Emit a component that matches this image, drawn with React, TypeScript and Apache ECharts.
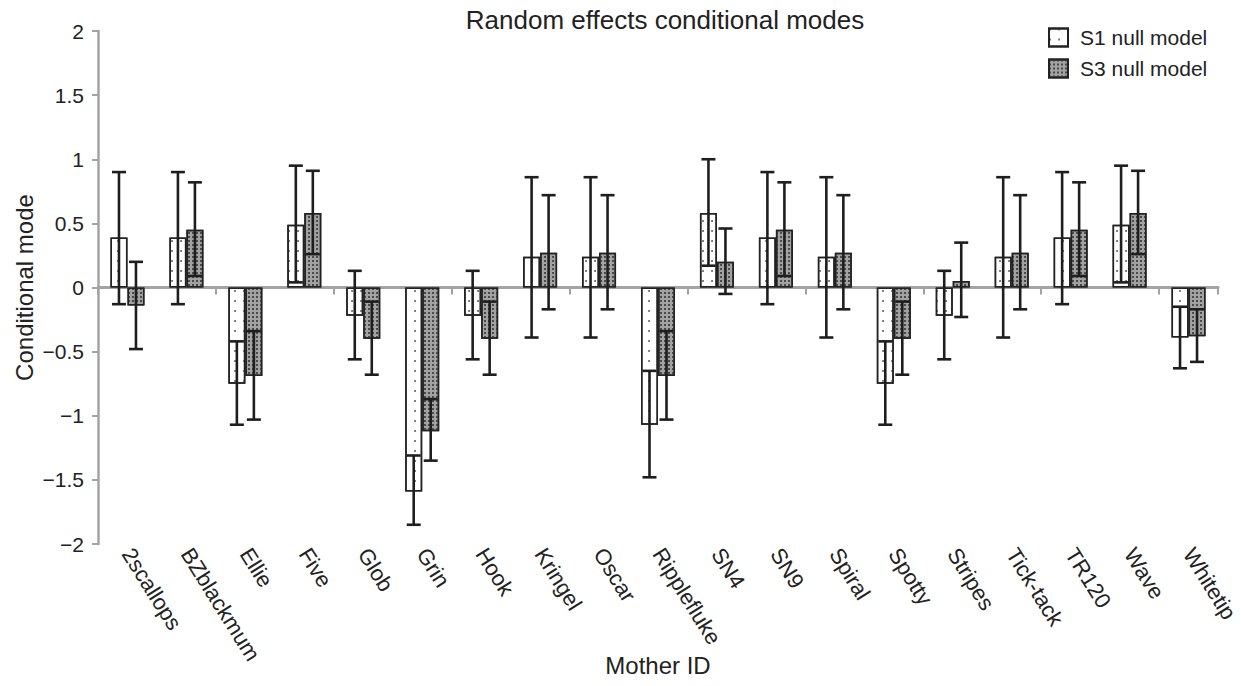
import React, { useEffect, useRef } from "react";
import * as echarts from "echarts";

const categories = [
  "2scallops", "BZblackmum", "Ellie", "Five", "Glob", "Grin", "Hook", "Kringel", "Oscar",
  "Ripplefluke", "SN4", "SN9", "Spiral", "Spotty", "Stripes", "Tick-tack", "TR120", "Wave", "Whitetip",
];

const s1Values = [0.39, 0.39, -0.75, 0.49, -0.22, -1.59, -0.22, 0.24, 0.24, -1.07, 0.58, 0.39, 0.24, -0.75, -0.22, 0.24, 0.39, 0.49, -0.39];
const s1Low = [-0.13, -0.13, -1.07, 0.04, -0.56, -1.85, -0.56, -0.39, -0.39, -1.48, 0.17, -0.13, -0.39, -1.07, -0.56, -0.39, -0.13, 0.04, -0.63];
const s1High = [0.9, 0.9, -0.42, 0.95, 0.13, -1.31, 0.13, 0.86, 0.86, -0.65, 1.0, 0.9, 0.86, -0.42, 0.13, 0.86, 0.9, 0.95, -0.15];

const s3Values = [-0.14, 0.45, -0.69, 0.58, -0.4, -1.12, -0.4, 0.27, 0.27, -0.69, 0.2, 0.45, 0.27, -0.4, 0.05, 0.27, 0.45, 0.58, -0.38];
const s3Low = [-0.48, 0.09, -1.03, 0.26, -0.68, -1.35, -0.68, -0.17, -0.17, -1.03, -0.05, 0.09, -0.17, -0.68, -0.23, -0.17, 0.09, 0.26, -0.58];
const s3High = [0.2, 0.82, -0.34, 0.91, -0.11, -0.87, -0.11, 0.72, 0.72, -0.34, 0.46, 0.82, 0.72, -0.11, 0.35, 0.72, 0.82, 0.91, -0.17];

const yTicks = [-2, -1.5, -1, -0.5, 0, 0.5, 1, 1.5, 2];

const FONT = "'Liberation Sans', Arial, Helvetica, sans-serif";
const BAR_W = 17;

function errorSeries(name: string, low: number[], high: number[], offset: number) {
  return {
    type: "custom",
    name: name + " err",
    xAxisIndex: 0,
    yAxisIndex: 0,
    z: 10,
    silent: true,
    encode: { x: 0, y: [1, 2] },
    data: low.map((l, i) => [i, l, high[i]]),
    renderItem: (params: any, api: any) => {
      const idx = api.value(0);
      const lo = api.coord([idx, api.value(1)]);
      const hi = api.coord([idx, api.value(2)]);
      const x = lo[0] + offset;
      const cap = 7;
      const style = { stroke: "#1e1e1e", lineWidth: 2.6 };
      return {
        type: "group",
        children: [
          { type: "line", shape: { x1: x, y1: lo[1], x2: x, y2: hi[1] }, style },
          { type: "line", shape: { x1: x - cap, y1: lo[1], x2: x + cap, y2: lo[1] }, style },
          { type: "line", shape: { x1: x - cap, y1: hi[1], x2: x + cap, y2: hi[1] }, style },
        ],
      };
    },
  };
}

export default function App() {
  const ref = useRef<HTMLDivElement>(null);
  useEffect(() => {
    if (!ref.current) return;
    const chart = echarts.init(ref.current, null, { renderer: "svg" });
    chart.setOption({
      animation: false,
      textStyle: { fontFamily: FONT },
      title: {
        text: "Random effects conditional modes",
        left: 660,
        textAlign: "center",
        top: 2,
        textStyle: { fontFamily: FONT, fontSize: 26, fontWeight: "normal", color: "#222" },
      },
      legend: {
        orient: "vertical",
        left: 1043,
        top: 22,
        itemWidth: 19,
        itemHeight: 18,
        itemGap: 10,
        icon: "rect",
        data: ["S1 null model", "S3 null model"],
        textStyle: { fontFamily: FONT, fontSize: 21, color: "#222", padding: [0, 0, 0, 7] },
      },
      grid: { left: 98, right: 23, top: 31, bottom: 142, containLabel: false, outerBoundsMode: "none" },
      xAxis: [
        {
          type: "category",
          data: categories,
          position: "bottom",
          axisLine: { show: false, onZero: false },
          axisTick: { show: false },
          axisLabel: {
            rotate: -58,
            fontSize: 22,
            color: "#222",
            fontFamily: FONT,
            margin: 6,
            interval: 0,
          },
          name: "Mother ID",
          nameLocation: "middle",
          nameGap: 109,
          nameMoveOverlap: false,
          nameTextStyle: { fontSize: 24, color: "#222", fontFamily: FONT },
        },
        {
          type: "category",
          data: categories,
          position: "bottom",
          axisLine: { show: true, onZero: true, lineStyle: { color: "#a3a3a3", width: 3 } },
          axisTick: { show: true, length: 7, lineStyle: { color: "#a3a3a3", width: 2 } },
          axisLabel: { show: false },
        },
      ],
      yAxis: {
        type: "value",
        min: -2,
        max: 2,
        interval: 0.5,
        splitLine: { show: false },
        axisLine: { show: true, lineStyle: { color: "#a3a3a3", width: 2.5 } },
        axisTick: { show: true, length: 6, lineStyle: { color: "#a3a3a3", width: 2 } },
        axisLabel: {
          fontSize: 21,
          color: "#222",
          fontFamily: FONT,
          margin: 14,
          formatter: (v: number) => (yTicks.includes(v) ? (v < 0 ? "\u2212" + Math.abs(v) : String(v)) : ""),
        },
        name: "Conditional mode",
        nameLocation: "middle",
        nameGap: 62,
        nameMoveOverlap: false,
        nameRotate: 90,
        nameTextStyle: { fontSize: 24, color: "#222", fontFamily: FONT },
      },
      series: [
        {
          name: "S1 null model",
          type: "bar",
          xAxisIndex: 0,
          barWidth: BAR_W,
          barGap: "0%",
          data: s1Values,
          itemStyle: {
            color: "#ffffff",
            borderColor: "#222",
            borderWidth: 1.5,
            decal: {
              symbol: "circle",
              symbolSize: 0.9,
              color: "#555",
              dashArrayX: [2, 7],
              dashArrayY: [2, 7.5],
            },
          },
        },
        {
          name: "S3 null model",
          type: "bar",
          xAxisIndex: 0,
          barWidth: BAR_W,
          barGap: "0%",
          data: s3Values,
          itemStyle: {
            color: "#a2a2a2",
            borderColor: "#222",
            borderWidth: 1.5,
            decal: {
              symbol: "rect",
              symbolSize: 1,
              color: "#4a4a4a",
              dashArrayX: [1.5, 1.5],
              dashArrayY: [1.5, 1.5],
            },
          },
        },
        errorSeries("S1 null model", s1Low, s1High, -BAR_W / 2),
        errorSeries("S3 null model", s3Low, s3High, BAR_W / 2),
      ],
    });
    return () => chart.dispose();
  }, []);
  return (
    <div
      ref={ref}
      style={{ position: "fixed", left: 0, top: 0, width: 1241, height: 686, background: "#fff" }}
    />
  );
}
